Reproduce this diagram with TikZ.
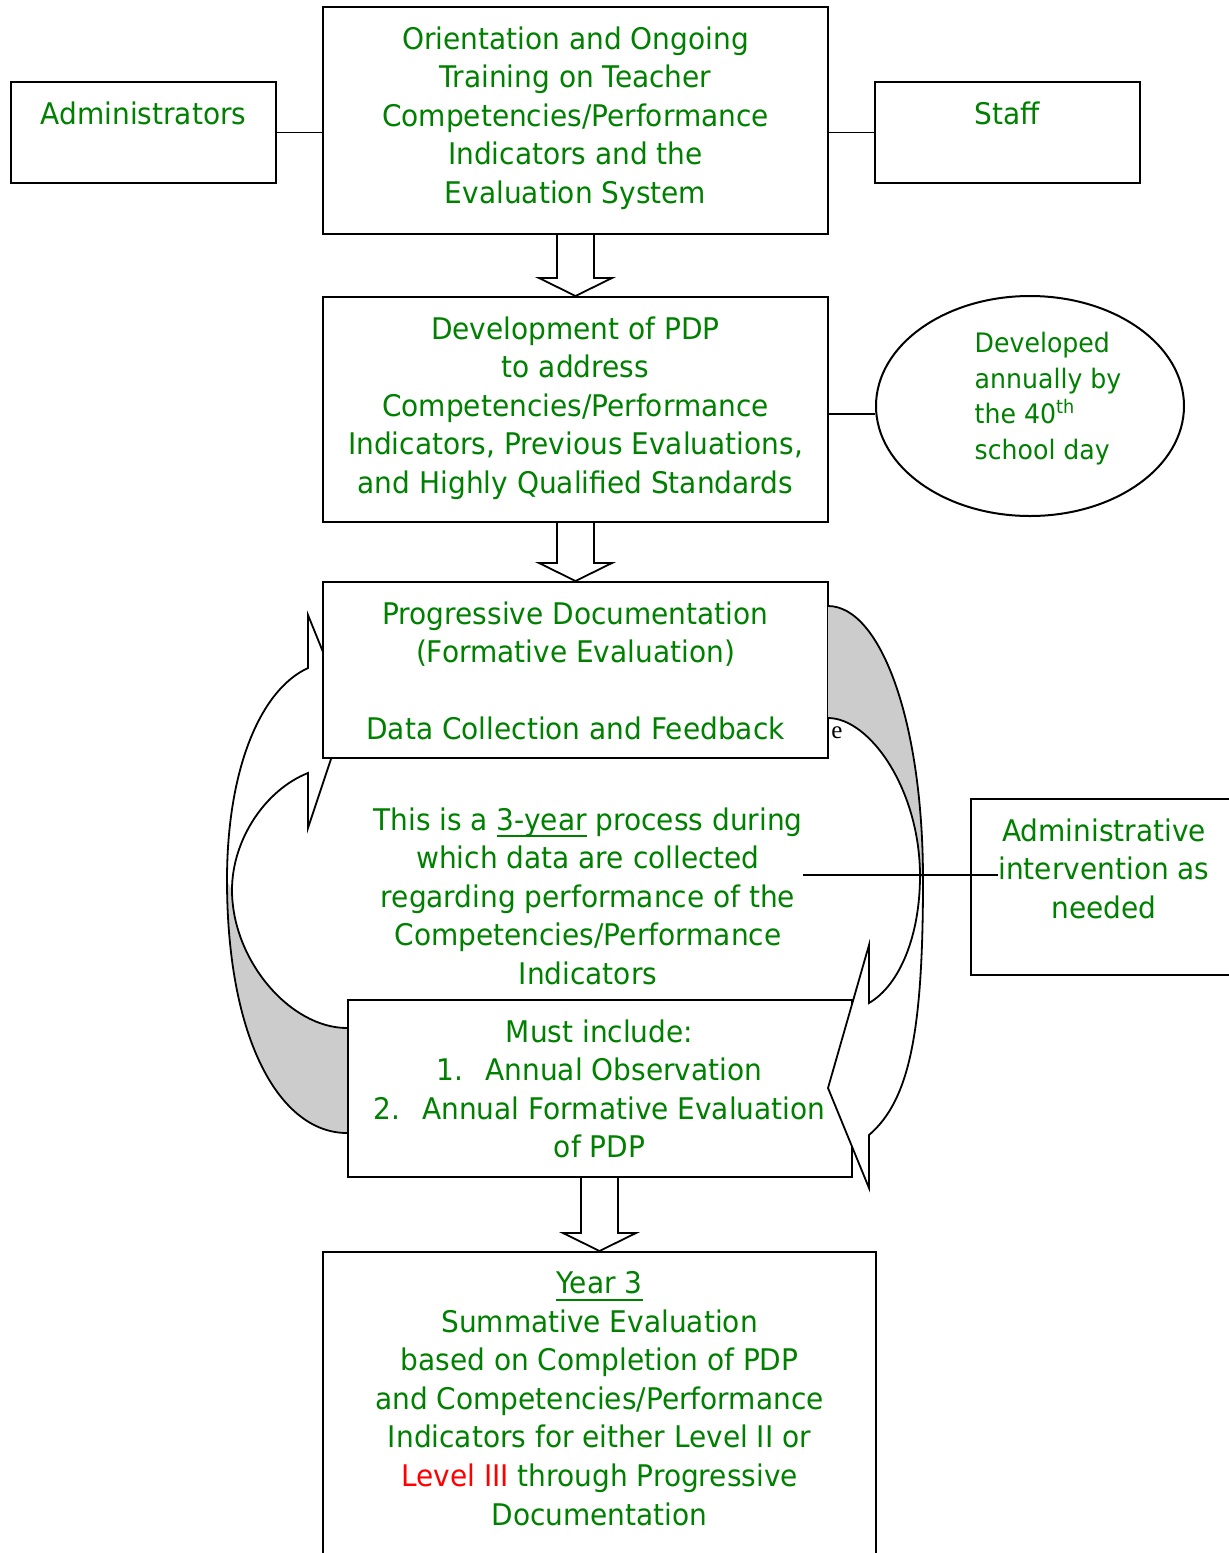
\documentclass[tikz,border=0pt]{standalone}
\usepackage{fontspec}
\setmainfont{DejaVu Sans}[FakeStretch=0.94]
\newfontfamily\strayfont{Liberation Serif}
\usetikzlibrary{shapes.geometric}

\definecolor{tgreen}{RGB}{0,128,0}
\definecolor{tred}{RGB}{255,0,0}
\definecolor{backside}{RGB}{204,204,204}
\newcommand\boxfont{\fontsize{14.9pt}{19.3pt}\selectfont}
\newcommand\notefont{\fontsize{13.4pt}{17.8pt}\selectfont}
\newsavebox\undlbox
\newcommand\undl[1]{\sbox\undlbox{#1}\rlap{\rule[-3.6pt]{\wd\undlbox}{1.1pt}}\usebox\undlbox}
% hollow down arrow from one panel to the next
\newcommand\flowarrow[2]{%
  \draw[link,fill=white] ([xshift=-9.25pt]#1) -- ([xshift=-9.25pt,yshift=9pt]#2)
    -- ([xshift=-18.25pt,yshift=9pt]#2) -- (#2) -- ([xshift=18.25pt,yshift=9pt]#2)
    -- ([xshift=9.25pt,yshift=9pt]#2) -- ([xshift=9.25pt]#1);}

\tikzset{
  panel/.style={draw, line width=1pt, fill=white, inner sep=0pt},
  paneltext/.style={anchor=north, yshift=-10pt, align=center, inner sep=0pt, text=tgreen, font=\boxfont},
  notetext/.style={align=left, inner sep=0pt, text=tgreen, font=\notefont},
  link/.style={line width=0.9pt},
  curve/.style={line width=0.9pt, line join=miter},
}

\begin{document}
\begin{tikzpicture}[x=0.5pt,y=-0.5pt]
\useasboundingbox (0,0) rectangle (1228,1553);

% curved arrow going up on the left
\fill[backside] (347,1133) .. controls (280,1133) and (227,1040) .. (227,880) -- (232,890)
  .. controls (232,960) and (290,1028) .. (347,1028) -- cycle;
\fill[white] (227,880) .. controls (227,770) and (260,690) .. (308,668) -- (308,615) -- (347,711)
  -- (308,828) -- (308,773) .. controls (265,790) and (232,840) .. (232,890) -- cycle;
\draw[curve] (347,1133) .. controls (280,1133) and (227,1040) .. (227,880)
  .. controls (227,770) and (260,690) .. (308,668) -- (308,615) -- (347,711) -- (308,828) -- (308,773)
  .. controls (265,790) and (232,840) .. (232,890) .. controls (232,960) and (290,1028) .. (347,1028);

\node[panel, minimum width=132.5pt, minimum height=50.5pt,
  label={[paneltext,name=adminT]north:{Administrators}}] (admin) at (143.5,132.5) {};
\node[panel, minimum width=252.5pt, minimum height=113.5pt,
  label={[paneltext,name=orientT]north:{Orientation and Ongoing\\Training on Teacher\\Competencies/Performance\\Indicators and the\\Evaluation System}}] (orient) at (575.5,120.5) {};
\node[panel, minimum width=132.5pt, minimum height=50.5pt,
  label={[paneltext,name=staffT]north:{Staff}}] (staff) at (1007.5,132.5) {};
\node[panel, minimum width=252.5pt, minimum height=112.5pt,
  label={[paneltext,name=devT]north:{Development of PDP\\to address\\Competencies/Performance\\Indicators, Previous Evaluations,\\and Highly Qualified Standards}}] (dev) at (575.5,409.5) {};
\node[panel, ellipse, minimum width=154pt, minimum height=110pt,
  label={[notetext,name=devnoteT,xshift=9pt,yshift=3.75pt]center:{Developed\\annually by\\the 40\textsuperscript{th}\\school day}}] (devnote) at (1030,406) {};
\node[panel, minimum width=252.5pt, minimum height=88pt,
  label={[paneltext,name=progT]north:{Progressive Documentation\\(Formative Evaluation)\\\mbox{}\\Data Collection and Feedback}}] (prog) at (575.5,670) {};
\node[panel, minimum width=150pt, minimum height=88pt,
  label={[paneltext,name=intvT,xshift=-8.5pt]north:{Administrative\\intervention as\\needed}}] (intv) at (1121,887) {};
\node[panel, minimum width=252pt, minimum height=88.5pt,
  label={[paneltext,name=mustsT]north:{Must include:\\1.\hspace{11pt}Annual Observation\\2.\hspace{11pt}Annual Formative Evaluation\\of PDP}}] (musts) at (599.5,1088.5) {};
\node[panel, minimum width=276.5pt, minimum height=170pt,
  label={[paneltext,name=year3T]north:{\undl{Year 3}\\Summative Evaluation\\based on Completion of PDP\\and Competencies/Performance\\Indicators for either Level II or\\\textcolor{tred}{Level III} through Progressive\\Documentation}}] (year3) at (599.5,1422) {};

\node[anchor=north, align=center, inner sep=0pt, text=tgreen, font=\boxfont] (process) at (588,807)
  {This is a \undl{3-year} process during\\which data are collected\\regarding performance of the\\Competencies/Performance\\Indicators};
\node[inner sep=0pt, font=\strayfont\fontsize{12.5pt}{12.5pt}\selectfont] (stray) at (837,733) {e};

\flowarrow{orient.south}{dev.north}
\flowarrow{dev.south}{prog.north}
\flowarrow{musts.south}{year3.north}

% curved arrow going down on the right
\fill[backside] (828,606) .. controls (880,606) and (923,720) .. (923,880) -- (920,876)
  .. controls (920,790) and (870,718) .. (828,718) -- cycle;
\fill[white] (923,880) .. controls (923,1030) and (910,1100) .. (869,1135) -- (869,1188) -- (828,1088)
  -- (869,945) -- (869,1003) .. controls (900,985) and (920,935) .. (920,876) -- cycle;
\draw[curve] (828,606) .. controls (880,606) and (923,720) .. (923,880)
  .. controls (923,1030) and (910,1100) .. (869,1135) -- (869,1188) -- (828,1088) -- (869,945) -- (869,1003)
  .. controls (900,985) and (920,935) .. (920,876) .. controls (920,790) and (870,718) .. (828,718);

\draw[link] (admin.east) -- (admin.east -| orient.west);
\draw[link] (staff.west -| orient.east) -- (staff.west);
\draw[link] (dev.east |- devnote.183) -- (devnote.183);
\coordinate (procline) at (803,875);
\draw[link] (procline) -- (procline -| intvT.west);
\end{tikzpicture}
\end{document}
